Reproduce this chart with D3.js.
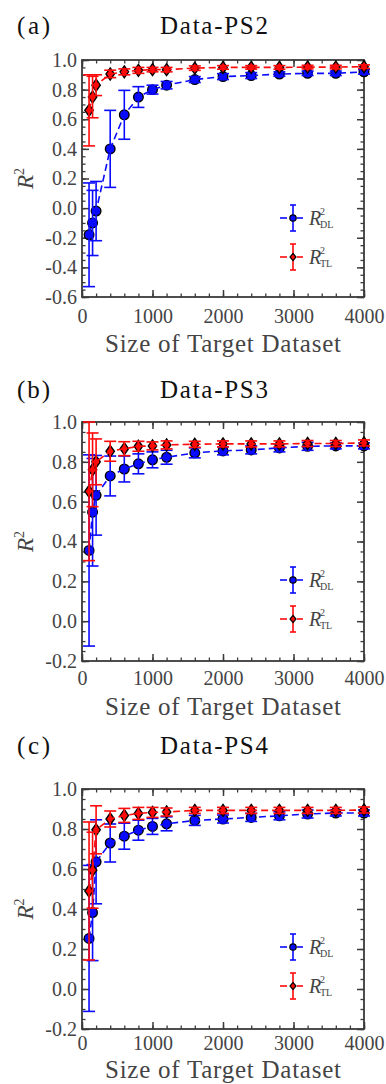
<!DOCTYPE html>
<html>
<head>
<meta charset="utf-8">
<script src="https://cdn.jsdelivr.net/npm/d3@7"></script>
<style>
  html, body { margin: 0; padding: 0; background: #fff; }
  svg { display: block; }
  text { font-family: "Liberation Serif", "Times New Roman", serif; font-weight: normal; }
</style>
</head>
<body>
<svg id="chart" width="386" height="1084"></svg>
<script>
// ---------------- data ----------------
const sizes = [100, 150, 200, 400, 600, 800, 1000, 1200, 1600, 2000, 2400, 2800, 3200, 3600, 4000];

const dlPS2    = [-0.18, -0.10, -0.02, 0.40, 0.63, 0.75, 0.80, 0.83, 0.868, 0.888, 0.895, 0.905, 0.91, 0.91, 0.92];
const dlErrPS2 = [0.35, 0.22, 0.20, 0.26, 0.165, 0.07, 0.03, 0.025, 0.02, 0.02, 0.02, 0.015, 0.015, 0.015, 0.015];
const tlPS2    = [0.66, 0.75, 0.83, 0.906, 0.92, 0.93, 0.935, 0.935, 0.945, 0.95, 0.95, 0.95, 0.952, 0.952, 0.955];
const tlErrPS2 = [0.24, 0.14, 0.07, 0.025, 0.02, 0.02, 0.015, 0.015, 0.015, 0.012, 0.012, 0.012, 0.012, 0.012, 0.012];

const dlPS3    = [0.355, 0.547, 0.632, 0.729, 0.764, 0.79, 0.81, 0.823, 0.845, 0.855, 0.86, 0.87, 0.878, 0.88, 0.88];
const dlErrPS3 = [0.48, 0.27, 0.20, 0.10, 0.065, 0.05, 0.04, 0.035, 0.025, 0.02, 0.02, 0.02, 0.02, 0.015, 0.015];
const tlPS3    = [0.652, 0.76, 0.80, 0.853, 0.866, 0.878, 0.88, 0.885, 0.888, 0.89, 0.89, 0.89, 0.892, 0.892, 0.895];
const tlErrPS3 = [0.348, 0.185, 0.115, 0.05, 0.035, 0.025, 0.02, 0.02, 0.015, 0.015, 0.015, 0.015, 0.015, 0.015, 0.015];

const dlPS4    = [0.253, 0.382, 0.636, 0.73, 0.764, 0.794, 0.813, 0.826, 0.843, 0.85, 0.858, 0.866, 0.875, 0.88, 0.88];
const dlErrPS4 = [0.365, 0.24, 0.21, 0.095, 0.065, 0.05, 0.04, 0.035, 0.025, 0.02, 0.02, 0.02, 0.02, 0.015, 0.015];
const tlPS4    = [0.49, 0.594, 0.796, 0.85, 0.868, 0.878, 0.883, 0.885, 0.893, 0.893, 0.893, 0.893, 0.893, 0.893, 0.895];
const tlErrPS4 = [0.345, 0.19, 0.12, 0.04, 0.035, 0.03, 0.025, 0.02, 0.015, 0.015, 0.015, 0.015, 0.015, 0.015, 0.015];

const xTicks = [0, 1000, 2000, 3000, 4000];
const xTickLabels = ["0", "1000", "2000", "3000", "4000"];
const yTicksA = [-0.6, -0.4, -0.2, 0.0, 0.2, 0.4, 0.6, 0.8, 1.0];
const yTickLabelsA = ["-0.6", "-0.4", "-0.2", "0.0", "0.2", "0.4", "0.6", "0.8", "1.0"];
const yTicksBC = [-0.2, 0.0, 0.2, 0.4, 0.6, 0.8, 1.0];
const yTickLabelsBC = ["-0.2", "0.0", "0.2", "0.4", "0.6", "0.8", "1.0"];

const panelLetters = ["(a)", "(b)", "(c)"];
const panelTitles = ["Data-PS2", "Data-PS3", "Data-PS4"];
const xTitle = "Size of Target Dataset";

// ---------------- layout ----------------
const panels = [
  { letter: panelLetters[0], title: panelTitles[0], top: 60, bottom: 297, ydom: [-0.6, 1.0],
    yt: yTicksA, ytl: yTickLabelsA, titleY: 34, tickY: 323, xlabY: 352,
    dl: dlPS2, dlErr: dlErrPS2, tl: tlPS2, tlErr: tlErrPS2 },
  { letter: panelLetters[1], title: panelTitles[1], top: 422, bottom: 661, ydom: [-0.2, 1.0],
    yt: yTicksBC, ytl: yTickLabelsBC, titleY: 398, tickY: 685, xlabY: 715,
    dl: dlPS3, dlErr: dlErrPS3, tl: tlPS3, tlErr: tlErrPS3 },
  { letter: panelLetters[2], title: panelTitles[2], top: 789, bottom: 1029, ydom: [-0.2, 1.0],
    yt: yTicksBC, ytl: yTickLabelsBC, titleY: 754, tickY: 1050, xlabY: 1078,
    dl: dlPS4, dlErr: dlErrPS4, tl: tlPS4, tlErr: tlErrPS4 }
];

const LEFT = 82, RIGHT = 364;
const BLUE = "#0a0aff", RED = "#ff0a0a", FRAME = "#3a3a3a", TXT = "#444";
const svg = d3.select("#chart");
const x = d3.scaleLinear().domain([0, 4000]).range([LEFT, RIGHT]);
const xMinor = d3.range(0, 4001, 200);

panels.forEach(p => {
  const y = d3.scaleLinear().domain(p.ydom).range([p.bottom, p.top]);
  const yMinor = d3.range(Math.round(p.ydom[0] * 100), Math.round(p.ydom[1] * 100) + 1, 5).map(v => v / 100);
  const g = svg.append("g");

  // titles
  g.append("text").attr("x", 17).attr("y", p.titleY).attr("font-size", 25)
    .attr("fill", "#111").attr("textLength", 33).attr("lengthAdjust", "spacing").text(p.letter);
  g.append("text").attr("x", 214).attr("y", p.titleY).attr("font-size", 25)
    .attr("fill", "#111").attr("text-anchor", "middle")
    .attr("textLength", 108).attr("lengthAdjust", "spacing").text(p.title);

  // minor ticks (all four sides)
  const minorAxes = [
    [d3.axisBottom(x).tickValues(xMinor), `translate(0,${p.bottom})`],
    [d3.axisTop(x).tickValues(xMinor), `translate(0,${p.top})`],
    [d3.axisLeft(y).tickValues(yMinor), `translate(${LEFT},0)`],
    [d3.axisRight(y).tickValues(yMinor), `translate(${RIGHT},0)`]
  ];
  minorAxes.forEach(([ax, tr]) => {
    const a = g.append("g").attr("transform", tr)
      .call(ax.tickSizeInner(-3.5).tickSizeOuter(0).tickFormat(""));
    a.select(".domain").remove();
    a.selectAll("line").attr("stroke", FRAME).attr("stroke-width", 1.3);
  });

  // major ticks with labels
  const ax1 = g.append("g").attr("transform", `translate(0,${p.bottom})`)
    .call(d3.axisBottom(x).tickValues(xTicks).tickSizeInner(-7).tickSizeOuter(0)
      .tickFormat((d, i) => xTickLabels[i]));
  ax1.selectAll("text").attr("dy", null).attr("y", p.tickY - p.bottom)
    .attr("font-size", 20).attr("fill", TXT).attr("font-family", "Liberation Serif");
  const ax2 = g.append("g").attr("transform", `translate(${LEFT},0)`)
    .call(d3.axisLeft(y).tickValues(p.yt).tickSizeInner(-7).tickSizeOuter(0).tickPadding(5)
      .tickFormat((d, i) => p.ytl[i]));
  ax2.selectAll("text").attr("font-size", 20).attr("fill", TXT).attr("font-family", "Liberation Serif");
  const ax3 = g.append("g").attr("transform", `translate(0,${p.top})`)
    .call(d3.axisTop(x).tickValues(xTicks).tickSizeInner(-7).tickSizeOuter(0).tickFormat(""));
  const ax4 = g.append("g").attr("transform", `translate(${RIGHT},0)`)
    .call(d3.axisRight(y).tickValues(p.yt).tickSizeInner(-7).tickSizeOuter(0).tickFormat(""));
  [ax1, ax2, ax3, ax4].forEach(a => {
    a.select(".domain").remove();
    a.selectAll("line").attr("stroke", FRAME).attr("stroke-width", 1.5);
  });

  // frame
  g.append("rect").attr("x", LEFT).attr("y", p.top).attr("width", RIGHT - LEFT).attr("height", p.bottom - p.top)
    .attr("fill", "none").attr("stroke", FRAME).attr("stroke-width", 1.8);

  // axis titles
  g.append("text").attr("x", 223).attr("y", p.xlabY).attr("text-anchor", "middle")
    .attr("font-size", 25).attr("fill", TXT)
    .attr("textLength", 236).attr("lengthAdjust", "spacing").text(xTitle);
  const yl = g.append("text")
    .attr("transform", `translate(33,${(p.top + p.bottom) / 2}) rotate(-90)`)
    .attr("text-anchor", "middle").attr("font-size", 23).attr("fill", TXT);
  yl.append("tspan").attr("font-style", "italic").text("R");
  yl.append("tspan").attr("font-size", 14).attr("dy", -9).text("2");

  // series
  const series = [
    { v: p.dl, e: p.dlErr, color: BLUE, shape: "circle" },
    { v: p.tl, e: p.tlErr, color: RED, shape: "diamond" }
  ];
  series.forEach(s => {
    const pts = sizes.map((sz, i) => ({ x: sz, v: s.v[i], e: s.e[i] }));
    const sg = g.append("g");
    if (s.shape === "circle") {
      sg.selectAll("circle").data(pts).join("circle")
        .attr("cx", d => x(d.x)).attr("cy", d => y(d.v)).attr("r", 4.8)
        .attr("fill", s.color).attr("stroke", "#000").attr("stroke-width", 1.4);
    } else {
      sg.selectAll("path.mk").data(pts).join("path").attr("class", "mk")
        .attr("d", d => { const cx = x(d.x), cy = y(d.v);
          return `M${cx},${cy - 6}L${cx + 4.2},${cy}L${cx},${cy + 6}L${cx - 4.2},${cy}Z`; })
        .attr("fill", s.color).attr("stroke", "#000").attr("stroke-width", 1.4);
    }
    sg.append("path").datum(pts)
      .attr("d", d3.line().x(d => x(d.x)).y(d => y(d.v)))
      .attr("fill", "none").attr("stroke", s.color).attr("stroke-width", 1.6)
      .attr("stroke-dasharray", "7,4");
    const eb = sg.selectAll("g.eb").data(pts).join("g").attr("class", "eb")
      .attr("stroke", s.color).attr("stroke-width", 1.6);
    eb.append("line").attr("x1", d => x(d.x)).attr("x2", d => x(d.x))
      .attr("y1", d => y(d.v + d.e)).attr("y2", d => y(d.v - d.e));
    eb.append("line").attr("x1", d => x(d.x) - 6).attr("x2", d => x(d.x) + 6)
      .attr("y1", d => y(d.v + d.e)).attr("y2", d => y(d.v + d.e));
    eb.append("line").attr("x1", d => x(d.x) - 6).attr("x2", d => x(d.x) + 6)
      .attr("y1", d => y(d.v - d.e)).attr("y2", d => y(d.v - d.e));
  });

  // legend
  const leg = [
    { dy: 158, color: BLUE, shape: "circle", sub: "DL" },
    { dy: 197, color: RED, shape: "diamond", sub: "TL" }
  ];
  leg.forEach(l => {
    const cx = 293, cy = p.top + l.dy;
    const lg = g.append("g");
    lg.append("line").attr("x1", cx - 13).attr("x2", cx - 6).attr("y1", cy).attr("y2", cy)
      .attr("stroke", l.color).attr("stroke-width", 1.6);
    lg.append("line").attr("x1", cx + 4).attr("x2", cx + 10).attr("y1", cy).attr("y2", cy)
      .attr("stroke", l.color).attr("stroke-width", 1.6);
    lg.append("line").attr("x1", cx).attr("x2", cx).attr("y1", cy - 13).attr("y2", cy + 13)
      .attr("stroke", l.color).attr("stroke-width", 1.6);
    [cy - 13, cy + 13].forEach(yy => lg.append("line").attr("x1", cx - 3).attr("x2", cx + 3)
      .attr("y1", yy).attr("y2", yy).attr("stroke", l.color).attr("stroke-width", 1.6));
    if (l.shape === "circle") {
      lg.append("circle").attr("cx", cx).attr("cy", cy).attr("r", 3.2)
        .attr("fill", l.color).attr("stroke", "#000").attr("stroke-width", 1.2);
    } else {
      lg.append("path").attr("d", `M${cx},${cy - 3.6}L${cx + 3},${cy}L${cx},${cy + 3.6}L${cx - 3},${cy}Z`)
        .attr("fill", l.color).attr("stroke", "#000").attr("stroke-width", 1.2);
    }
    lg.append("text").attr("x", 309).attr("y", cy + 7).attr("font-size", 20)
      .attr("font-style", "italic").attr("fill", TXT).text("R");
    lg.append("text").attr("x", 320).attr("y", cy - 3).attr("font-size", 10).attr("fill", TXT).text("2");
    lg.append("text").attr("x", 320).attr("y", cy + 10).attr("font-size", 10).attr("fill", TXT).text(l.sub);
  });
});
</script>
</body>
</html>
